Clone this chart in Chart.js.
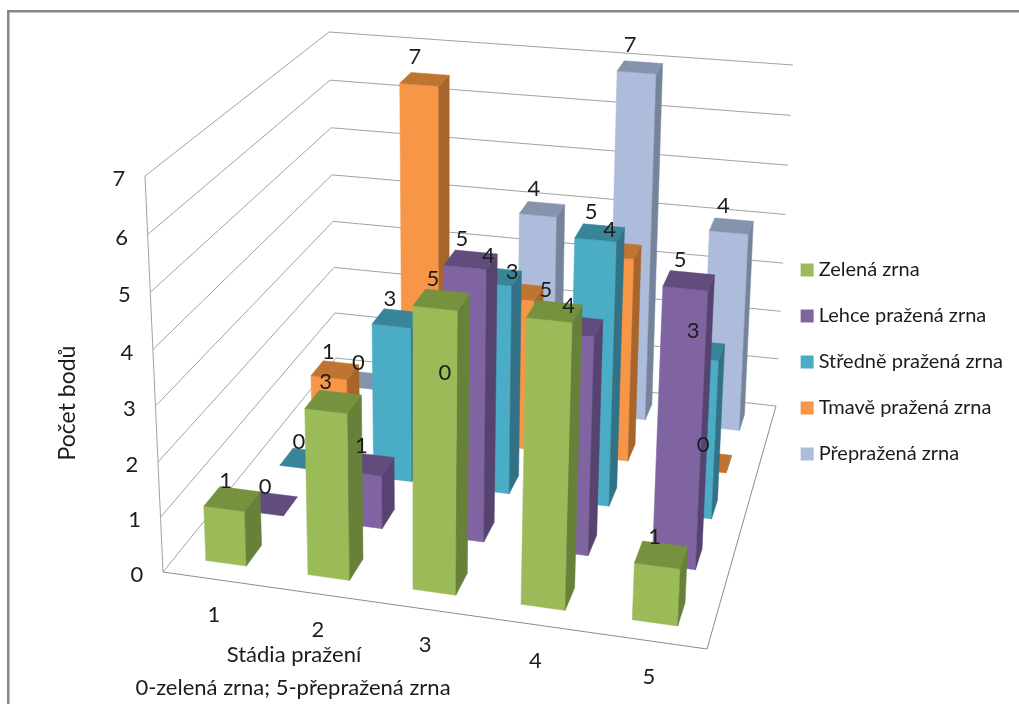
<!DOCTYPE html>
<html lang="cs">
<head>
<meta charset="utf-8">
<title>Stádia pražení</title>
<script src="https://cdn.jsdelivr.net/npm/chart.js@4/dist/chart.umd.min.js"></script>
<style>
  html, body { margin: 0; padding: 0; background: #fff; }
  canvas { display: block; }
</style>
</head>
<body>
<canvas id="chart" width="1019" height="704"></canvas>
<script>
const stages = ['1', '2', '3', '4', '5']
const seriesNames = ['Zelená zrna', 'Lehce pražená zrna', 'Středně pražená zrna', 'Tmavě pražená zrna', 'Přepražená zrna']

const zelena = [1, 3, 5, 5, 1]
const lehce = [0, 1, 5, 4, 5]
const stredne = [0, 3, 4, 5, 3]
const tmave = [1, 7, 3, 4, 0]
const prepazena = [0, 0, 4, 7, 4]

const frontColors = ['#9BBB59', '#8064A2', '#4BACC6', '#F79646', '#ADBCDA']
const topColors = ['#76923F', '#624C7D', '#38859A', '#BF7431', '#8593AC']
const sideColors = ['#67803A', '#57436F', '#327186', '#A8652B', '#76849B']

const yTitle = 'Počet bodů'
const xTitleLines = ['Stádia pražení', '0-zelená zrna; 5-přepražená zrna']

const textColor = '#1c1c1c'
const gridColor = '#a2a2a2'
const fontFamily = 'Lato, sans-serif'

// the box the bars stand in: front-left, front-right, back-right, back-left
const floorQuad = [[163, 572], [707, 649], [776, 406], [336, 358]]
const roofQuad = [[145, 176], [728, 229], [793, 65], [329, 32]]
const heightBias = 1.04

function quadMapper(q) {
    const [[x0, y0], [x1, y1], [x2, y2], [x3, y3]] = q
    const dx1 = x1 - x2, dx2 = x3 - x2, sx = x0 - x1 + x2 - x3
    const dy1 = y1 - y2, dy2 = y3 - y2, sy = y0 - y1 + y2 - y3
    const den = dx1 * dy2 - dx2 * dy1
    const g = (sx * dy2 - dx2 * sy) / den
    const h = (dx1 * sy - sx * dy1) / den
    const a = x1 - x0 + g * x1, b = x3 - x0 + h * x3
    const d = y1 - y0 + g * y1, e = y3 - y0 + h * y3
    return (u, v) => {
        const w = g * u + h * v + 1
        return [(a * u + b * v + x0) / w, (d * u + e * v + y0) / w]
    }
}

const onFloor = quadMapper(floorQuad)
const onRoof = quadMapper(roofQuad)

// u across the stages, v into the depth, t up the value axis (all 0..1)
function project(u, v, t) {
    const s = t / (t + (1 - t) * heightBias)
    const a = onFloor(u, v)
    const b = onRoof(u, v)
    return [a[0] + (b[0] - a[0]) * s, a[1] + (b[1] - a[1]) * s]
}

function face(ctx, pts, color) {
    ctx.beginPath()
    pts.forEach((p, i) => i ? ctx.lineTo(p[0], p[1]) : ctx.moveTo(p[0], p[1]))
    ctx.closePath()
    ctx.fillStyle = color
    ctx.strokeStyle = color
    ctx.lineWidth = 0.5
    ctx.fill()
    ctx.stroke()
}

function line(ctx, a, b) {
    ctx.beginPath()
    ctx.moveTo(a[0], a[1])
    ctx.lineTo(b[0], b[1])
    ctx.stroke()
}

const bars3d = {
    id: 'bars3d',
    beforeDraw(chart) {
        const ctx = chart.ctx
        ctx.fillStyle = '#868686'
        ctx.fillRect(7, 10, 2.5, chart.height - 10)
        ctx.fillRect(7, 10, chart.width - 7, 2.5)
    },
    // the flat bars only feed their geometry into the box
    beforeDatasetsDraw(chart) {
        const ctx = chart.ctx
        const { x: xs, y: ys, z: zs } = chart.scales
        const toU = px => (px - xs.left) / xs.width
        const toT = px => (ys.bottom - px) / ys.height
        const labels = []

        ctx.save()
        ctx.strokeStyle = gridColor
        ctx.lineWidth = 1
        ys.ticks.forEach(tick => {
            const t = toT(ys.getPixelForValue(tick.value))
            line(ctx, project(0, 0, t), project(0, 1, t))
            line(ctx, project(0, 1, t), project(1, 1, t))
        })
        line(ctx, project(0, 0, 0), project(0, 0, 1))
        ctx.strokeStyle = '#8c8c8c'
        line(ctx, project(0, 0, 0), project(1, 0, 0))
        line(ctx, project(1, 0, 0), project(1, 1, 0))

        for (let ds = chart.data.datasets.length - 1; ds >= 0; ds--) {
            const depth = (zs.getPixelForValue(ds) - zs.left) / zs.width
            const half = chart.getDatasetMeta(ds).data[0].width / xs.width / 2
            chart.getDatasetMeta(ds).data.forEach((bar, i) => {
                const u0 = toU(bar.x) - half, u1 = toU(bar.x) + half
                const v0 = depth - half, v1 = depth + half
                const t0 = toT(bar.base), t1 = toT(bar.y)
                const frontTopL = project(u0, v0, t1), frontTopR = project(u1, v0, t1)
                const backTopL = project(u0, v1, t1), backTopR = project(u1, v1, t1)
                face(ctx, [project(u0, v0, t0), project(u1, v0, t0), frontTopR, frontTopL], frontColors[ds])
                face(ctx, [project(u1, v0, t0), project(u1, v1, t0), backTopR, frontTopR], sideColors[ds])
                face(ctx, [frontTopL, frontTopR, backTopR, backTopL], topColors[ds])
                const value = chart.data.datasets[ds].data[i]
                const c = project(toU(bar.x), depth, t1)
                labels.push({ text: String(value), x: c[0] - 6 - 0.55 * value, y: c[1] - 17 - 0.8 * value })
            })
        }

        ctx.fillStyle = textColor
        ctx.textAlign = 'center'
        ctx.textBaseline = 'middle'
        ctx.font = '22px ' + fontFamily
        labels.forEach(l => ctx.fillText(l.text, l.x, l.y))

        ys.ticks.forEach(tick => {
            const p = project(0, 0, toT(ys.getPixelForValue(tick.value)))
            ctx.fillText(String(tick.value), p[0] - 26, p[1] + 3)
        })
        stages.forEach((stage, i) => {
            const p = project(toU(xs.getPixelForValue(i)), 0, 0)
            ctx.fillText(stage, p[0], p[1] + 36)
        })

        ctx.font = '22px ' + fontFamily
        ctx.fillText(xTitleLines[0], 294, 655)
        ctx.fillText(xTitleLines[1], 293, 688)

        ctx.translate(68, 403)
        ctx.rotate(-Math.PI / 2)
        ctx.font = '23px ' + fontFamily
        ctx.fillText(yTitle, 0, 0)
        ctx.restore()
        return false
    }
}

const seriesValues = [zelena, lehce, stredne, tmave, prepazena]

new Chart(document.querySelector('#chart').getContext('2d'), {
    type: 'bar',
    data: {
        labels: stages,
        datasets: seriesNames.map((name, i) => ({
            label: name,
            data: seriesValues[i],
            backgroundColor: frontColors[i],
            borderWidth: 0,
            categoryPercentage: 0.4,
            barPercentage: 1
        }))
    },
    options: {
        responsive: false,
        animation: false,
        events: [],
        layout: { padding: { top: 20, right: 6 } },
        scales: {
            x: { stacked: true, display: false },
            y: { min: 0, max: 7, ticks: { stepSize: 1 }, display: false },
            z: { axis: 'x', type: 'category', labels: seriesNames, offset: true, display: false }
        },
        plugins: {
            tooltip: { enabled: false },
            legend: {
                position: 'right',
                labels: {
                    usePointStyle: true,
                    pointStyle: 'rect',
                    boxWidth: 3,
                    boxHeight: 13,
                    padding: 26,
                    color: textColor,
                    font: { family: 'Lato', size: 20 }
                }
            }
        }
    },
    plugins: [bars3d]
})
</script>
</body>
</html>
